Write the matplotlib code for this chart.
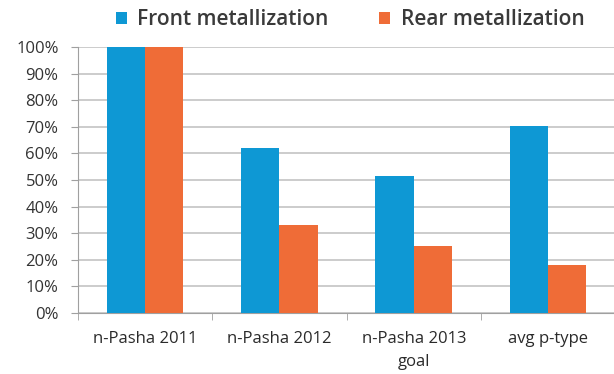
import numpy as np
import matplotlib
matplotlib.use("Agg")
from matplotlib import pyplot as plt
from matplotlib.ticker import FixedLocator, PercentFormatter

categories = ["n-Pasha 2011", "n-Pasha 2012", "n-Pasha 2013\ngoal", "avg p-type"]
front = [100, 62, 51.5, 70.5]
rear = [100, 33, 25.3, 18]
series_names = ["Front metallization", "Rear metallization"]
colors = ["#0E98D4", "#EF6C37"]

plt.rcParams["font.family"] = ["Open Sans", "DejaVu Sans"]

fig = plt.figure(figsize=(6.14, 3.74), dpi=100)
ax = fig.add_axes([0.127, 0.163, 0.875, 0.711])

x = np.arange(len(categories))
width = 0.285
ax.bar(x - width / 2, front, width, color=colors[0], label=series_names[0], zorder=3)
ax.bar(x + width / 2, rear, width, color=colors[1], label=series_names[1], zorder=3)

ax.set_xlim(-0.5, len(categories) - 0.5)
ax.set_ylim(0, 100)
ax.set_yticks(np.arange(0, 101, 10))
ax.yaxis.set_major_formatter(PercentFormatter(decimals=0))
ax.yaxis.grid(True, color="#BEBEBE", lw=1.1, zorder=0)

# category labels sit between the boundary tick marks
ax.set_xticks(x)
ax.set_xticklabels(categories, linespacing=1.55)
ax.tick_params(axis="x", which="major", length=0, pad=13, labelsize=12, colors="#2A2A2A")
ax.xaxis.set_minor_locator(FixedLocator(np.arange(-0.5, len(categories), 1)))
ax.tick_params(axis="x", which="minor", length=5, color="#A0A0A0")
ax.tick_params(axis="y", length=5, color="#A0A0A0", labelsize=12, labelcolor="#333333", pad=9)

for side in ["top", "right"]:
    ax.spines[side].set_visible(False)
ax.spines["left"].set_color("#A0A0A0")
ax.spines["bottom"].set_color("#A0A0A0")

fig.legend(loc="upper center", bbox_to_anchor=(0.57, 1.025), ncol=2, frameon=False,
           prop={"size": 15, "weight": "semibold"}, handlelength=0.55, handleheight=0.55,
           columnspacing=2.4, handletextpad=0.5, labelcolor="#3A3A3A")

fig.savefig("out.png", dpi=100, facecolor="w")
